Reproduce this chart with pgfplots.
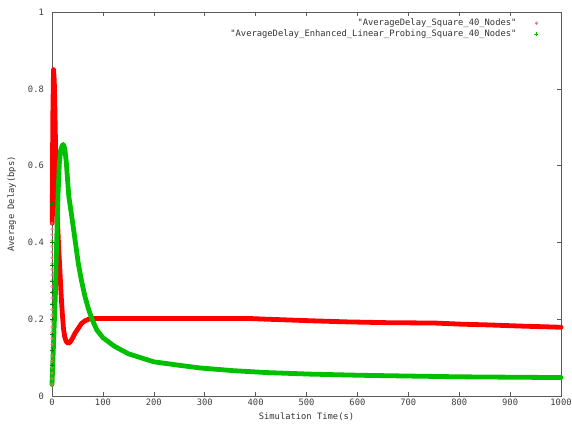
\documentclass[border=0pt]{standalone}
\usepackage{fontspec}
\setmainfont{DejaVu Sans Mono}[Ligatures=TeXOff]
\usepackage{pgfplots}
\pgfplotsset{compat=1.18}
\definecolor{gred}{RGB}{255,0,0}
\definecolor{ggreen}{RGB}{0,192,0}
\definecolor{axgray}{RGB}{90,90,90}
\pgfplotstableread{
t v
0.5 0.45
1.5 0.72
3 0.85
4.5 0.82
5.5 0.76
7 0.65
9 0.54
11 0.45
13 0.39
15 0.34
18 0.262
20.5 0.21
22.6 0.175
25 0.154
28 0.142
32 0.137
36 0.141
40 0.15
45 0.163
50 0.173
58 0.189
65 0.196
72 0.2
80 0.202
100 0.202
200 0.202
300 0.202
384 0.202
422 0.200
507 0.196
579 0.193
657 0.191
752 0.190
805 0.187
860 0.185
923 0.182
975 0.180
1000 0.179
}\redtab
\pgfplotstableread{
t v
0 0.03
2 0.1
3.5 0.154
5 0.21
6.5 0.259
8 0.34
9.8 0.432
12 0.53
14.4 0.606
17 0.64
20 0.652
22 0.655
25 0.645
28 0.61
33 0.52
38 0.475
42.6 0.432
47 0.39
51.7 0.345
58 0.3
64.8 0.259
72 0.225
78.6 0.2
88 0.172
100 0.152
122 0.13
150 0.11
200 0.089
250 0.08
291 0.073
356 0.066
422 0.061
507 0.057
605 0.054
699 0.052
800 0.05
900 0.049
1000 0.048
}\greentab
\pgfplotstableread{
t v
0 0.03
0 0.045
0 0.06
0 0.075
0 0.09
0 0.105
0 0.12
0 0.135
0 0.15
0 0.165
0 0.18
0 0.195
0 0.21
0 0.225
0 0.24
0 0.255
0 0.27
0 0.285
0 0.30
0 0.315
0 0.33
0 0.345
0 0.36
0 0.375
0 0.39
0 0.405
0 0.42
0 0.435
0 0.45
}\redzero
\pgfplotstableread{
t v
0 0.08
0 0.12
0 0.16
0 0.2
0 0.24
0 0.27
0 0.3
0 0.34
0 0.4
0 0.5
}\greenzero
\begin{document}
\fontsize{8.8pt}{10pt}\selectfont
\begin{tikzpicture}
\useasboundingbox (0,0) rectangle (572pt,432pt);
\begin{axis}[
  at={(52pt,36pt)}, anchor=south west,
  scale only axis, width=509pt, height=384pt,
  xmin=0, xmax=1000, ymin=0, ymax=1,
  xtick={0,100,200,300,400,500,600,700,800,900,1000},
  xticklabels={0,100,200,300,400,500,600,700,800,900,1000},
  ytick={0,0.2,0.4,0.6,0.8,1},
  yticklabels={0,0.2,0.4,0.6,0.8,1},
  minor tick num=0,
  tick align=inside,
  major tick length=4pt,
  axis line style={axgray, line width=0.7pt},
  every tick/.style={axgray, line width=0.6pt},
  /pgf/number format/assume math mode=true,
  tick label style={font=\fontsize{8.8pt}{10pt}\selectfont, text=black!75},
  yticklabel style={xshift=-5pt},
  xlabel={Simulation Time(s)},
  ylabel={Average Delay(bps)},
  label style={font=\fontsize{8.8pt}{10pt}\selectfont, text=black!80},
  xlabel style={at={(axis description cs:0.5,0)}, anchor=center, yshift=-21pt},
  ylabel style={at={(axis description cs:-0.079,0.5)}, anchor=center},
  legend plot pos=right,
  legend cell align=right,
  legend image code/.code={%
    \path[draw=none, fill=none] (0pt,0pt) -- (20pt,0pt);
    \draw[#1] plot coordinates {(19pt,0pt)};},
  legend style={at={(0.962,0.99)}, anchor=north east, draw=none, fill=none,
    font=\fontsize{8.8pt}{10pt}\selectfont, text=black!80,
    nodes={inner sep=1pt, text height=6.5pt, text depth=2pt}, row sep=0.5pt},
  clip=false,
]
\addplot[gred, line width=4.8pt, line join=round, line cap=round, forget plot] table[x=t,y=v] {\redtab};
\addplot[only marks, mark=o, mark size=1.3pt, gred!55, mark options={line width=0.5pt}, forget plot] table[x=t,y=v] {\redzero};
\addplot[ggreen, line width=4.8pt, line join=round, line cap=round, forget plot] table[x=t,y=v] {\greentab};
\addplot[only marks, mark=+, mark size=2pt, ggreen!70!black, mark options={line width=0.5pt}, forget plot] table[x=t,y=v] {\greenzero};
\addlegendimage{only marks, mark=*, mark size=1.3pt, gred!55}
\addlegendentry{"AverageDelay\_Square\_40\_Nodes"}
\addlegendimage{only marks, mark=+, mark size=2pt, ggreen, mark options={line width=0.6pt}}
\addlegendentry{"AverageDelay\_Enhanced\_Linear\_Probing\_Square\_40\_Nodes"}
\end{axis}
\end{tikzpicture}
\end{document}
